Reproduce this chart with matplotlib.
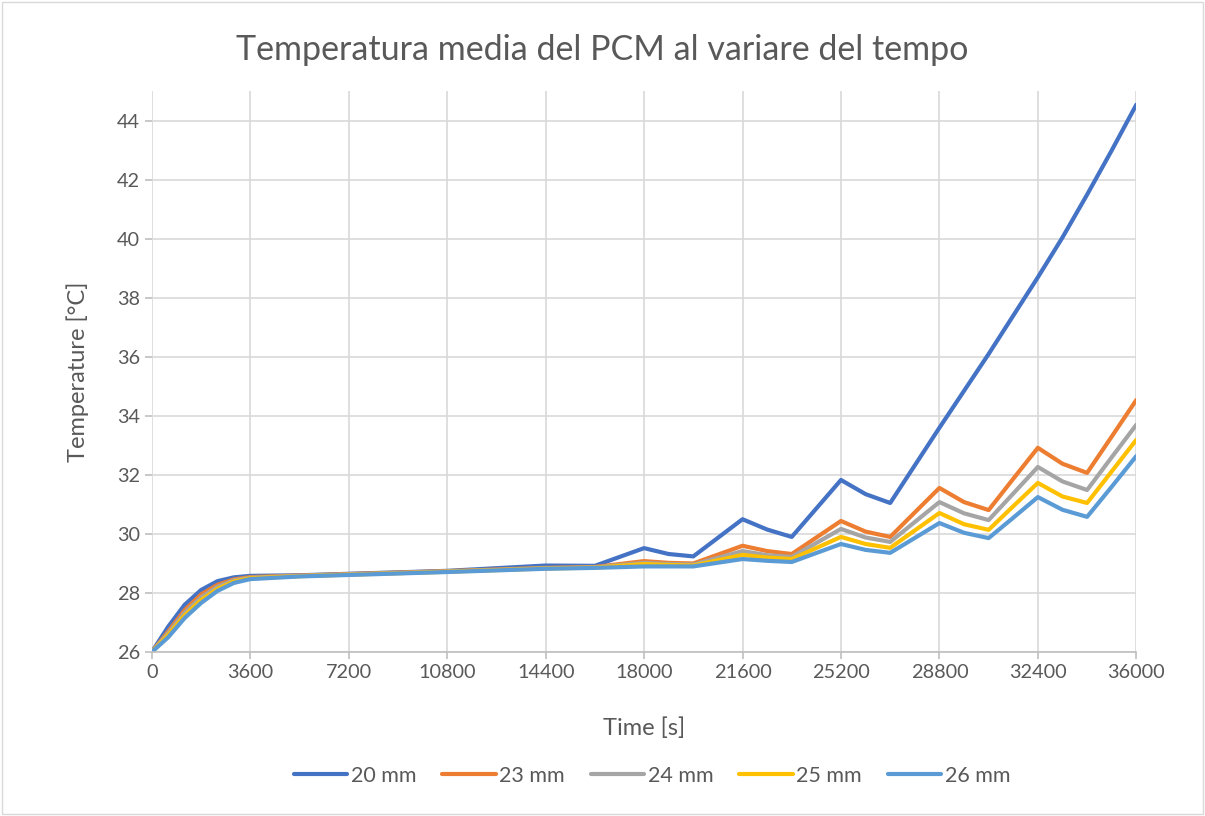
import numpy as np
import matplotlib.pyplot as plt
from matplotlib.patches import Rectangle

plt.rcParams['font.family'] = ['Lato', 'DejaVu Sans']

# tempi [s]
tempo = [0, 600, 1200, 1800, 2400, 3000, 3600, 5400, 7200, 10800, 14400, 16200,
         18000, 18900, 19800, 21600, 22500, 23400, 25200, 26100, 27000,
         28800, 29700, 30600, 31500, 32400, 33300, 34200, 35100, 36000]

# temperatura media [°C] per spessore
t20 = [26.0, 26.86, 27.6, 28.1, 28.4, 28.53, 28.58, 28.6, 28.65, 28.75, 28.93, 28.92,
       29.52, 29.32, 29.24, 30.5, 30.15, 29.9, 31.83, 31.35, 31.05,
       33.6, 34.85, 36.1, 37.4, 38.7, 40.05, 41.5, 43.0, 44.55]
t23 = [26.0, 26.7, 27.42, 27.95, 28.28, 28.46, 28.54, 28.59, 28.64, 28.74, 28.85, 28.88,
       29.08, 29.02, 29.0, 29.6, 29.42, 29.32, 30.44, 30.08, 29.9,
       31.56, 31.08, 30.81, 31.87, 32.92, 32.38, 32.07, 33.3, 34.54]
t24 = [26.0, 26.64, 27.33, 27.85, 28.21, 28.43, 28.52, 28.58, 28.63, 28.73, 28.84, 28.87,
       29.02, 28.98, 28.96, 29.42, 29.28, 29.22, 30.17, 29.88, 29.73,
       31.08, 30.7, 30.47, 31.37, 32.27, 31.78, 31.49, 32.6, 33.7]
t25 = [26.0, 26.58, 27.24, 27.76, 28.14, 28.39, 28.5, 28.57, 28.62, 28.72, 28.83, 28.86,
       28.98, 28.95, 28.93, 29.29, 29.2, 29.15, 29.9, 29.66, 29.53,
       30.71, 30.33, 30.14, 30.94, 31.73, 31.27, 31.05, 32.12, 33.19]
t26 = [26.0, 26.5, 27.15, 27.66, 28.07, 28.34, 28.47, 28.56, 28.61, 28.71, 28.82, 28.85,
       28.9, 28.9, 28.9, 29.15, 29.09, 29.05, 29.66, 29.46, 29.36,
       30.37, 30.04, 29.86, 30.55, 31.25, 30.82, 30.58, 31.6, 32.64]

serie = [t20, t23, t24, t25, t26]
etichette = ["20 mm", "23 mm", "24 mm", "25 mm", "26 mm"]
colori = ["#4472C4", "#ED7D31", "#A5A5A5", "#FFC000", "#5B9BD5"]

grigio = "#595959"

fig = plt.figure(figsize=(12.05, 8.16), dpi=100)
ax = fig.add_axes([0.126, 0.201, 0.817, 0.687])

for y, lab, c in zip(serie, etichette, colori):
    ax.plot(tempo, y, color=c, lw=3, label=lab, solid_capstyle='round',
            solid_joinstyle='round')

ax.set_xlim(0, 36000)
ax.set_ylim(26, 45)
ax.set_xticks(np.arange(0, 36001, 3600))
ax.set_yticks(np.arange(26, 45, 2))
ax.grid(True, color="#D9D9D9", lw=1.2)
ax.set_axisbelow(True)
for s in ['top', 'right', 'left']:
    ax.spines[s].set_visible(False)
ax.spines['bottom'].set_color("#BFBFBF")
ax.spines['bottom'].set_linewidth(1.2)
ax.tick_params(colors=grigio, labelsize=14.3, length=5, color="#BFBFBF", width=1.2)

ax.set_xlabel("Time [s]", fontsize=17, color=grigio, labelpad=26)
ax.set_ylabel("Temperature [°C]", fontsize=17, color=grigio, labelpad=20)
fig.text(0.5, 0.939, "Temperatura media del PCM al variare del tempo",
         ha='center', va='center', fontsize=24.5, color=grigio)

leg = fig.legend(loc='center', bbox_to_anchor=(0.541, 0.049), ncol=5, frameon=False,
                 fontsize=15.5, handlelength=2.5, columnspacing=1.2, handletextpad=0.15)
for t in leg.get_texts():
    t.set_color(grigio)

fig.patches.append(Rectangle((0.002, 0.002), 0.996, 0.996, transform=fig.transFigure,
                             fill=False, edgecolor="#D9D9D9", lw=1))

fig.savefig("out.png", dpi=100)
